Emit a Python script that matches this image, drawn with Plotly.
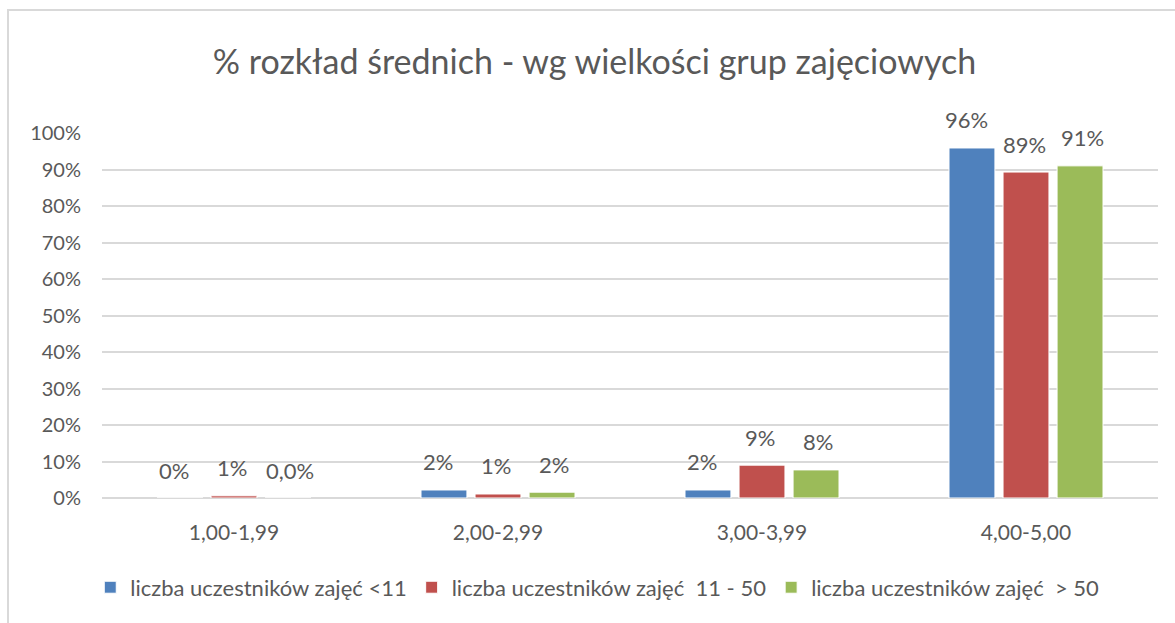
import plotly.graph_objects as go

categories = ["1,00-1,99", "2,00-2,99", "3,00-3,99", "4,00-5,00"]
series_names = ["liczba uczestników zajęć <11", "liczba uczestników zajęć  11 - 50", "liczba uczestników zajęć  > 50"]
values_lt11 = [0.0, 0.022, 0.022, 0.959]
values_11_50 = [0.006, 0.011, 0.090, 0.893]
values_gt50 = [0.0, 0.016, 0.077, 0.910]
labels_lt11 = ["0%", "2%", "2%", "96%"]
labels_11_50 = ["1%", "1%", "9%", "89%"]
labels_gt50 = ["0,0%", "2%", "8%", "91%"]
colors = ["#4F81BD", "#C0504D", "#9BBB59"]
y_ticks = [i / 10 for i in range(11)]
y_tick_labels = [f"{i*10}%" for i in range(11)]

FONT = "Lato"
GRAY = "#595959"

fig = go.Figure()
all_vals = [values_lt11, values_11_50, values_gt50]
all_labels = [labels_lt11, labels_11_50, labels_gt50]
for name, vals, col in zip(series_names, all_vals, colors):
    fig.add_trace(go.Bar(x=categories, y=vals, name=name,
                         marker=dict(color=col, line=dict(color="white", width=1))))

shifts = [-58, 0, 58]
for vals, labs, sh in zip(all_vals, all_labels, shifts):
    for c, v, t in zip(categories, vals, labs):
        fig.add_annotation(x=c, y=v, text=t, showarrow=False, xshift=sh - 2, yshift=28,
                           font=dict(family=FONT, size=22, color=GRAY))

fig.add_shape(type="rect", xref="paper", yref="paper",
              x0=(8 - 102) / 1056, x1=(1200 - 102) / 1056,
              y0=(498 - 640) / 365, y1=(498 - 10) / 365,
              line=dict(color="#D9D9D9", width=2), layer="below")

fig.update_layout(
    width=1175, height=623,
    margin=dict(l=102, r=17, t=133, b=125),
    paper_bgcolor="white", plot_bgcolor="white",
    title=dict(text="% rozkład średnich - wg wielkości grup zajęciowych",
               x=0.506, xanchor="center", y=0.9, yanchor="middle",
               font=dict(family=FONT, size=34, color=GRAY)),
    barmode="group", bargap=0.386, bargroupgap=0.15,
    legend=dict(orientation="h", x=0.469, xanchor="center", y=-0.245, yanchor="middle",
                font=dict(family=FONT, size=22, color=GRAY), itemwidth=30,
                traceorder="normal"),
    font=dict(family=FONT, color=GRAY),
)
fig.update_xaxes(tickfont=dict(family=FONT, size=21, color=GRAY), showline=False,
                 ticks="", ticklabelstandoff=20)
fig.update_yaxes(range=[0, 1], tickvals=y_ticks, ticktext=y_tick_labels,
                 tickfont=dict(family=FONT, size=20, color=GRAY),
                 gridcolor="#D9D9D9", gridwidth=2, zeroline=True, zerolinecolor="#D9D9D9",
                 zerolinewidth=2, ticklabelstandoff=20)
fig.write_html("out.html", config={"displayModeBar": False})

with open("out.html", encoding="utf-8") as f:
    html = f.read()
html = html.replace("<body>", '<body style="margin:0;padding:0;">', 1)
with open("out.html", "w", encoding="utf-8") as f:
    f.write(html)
